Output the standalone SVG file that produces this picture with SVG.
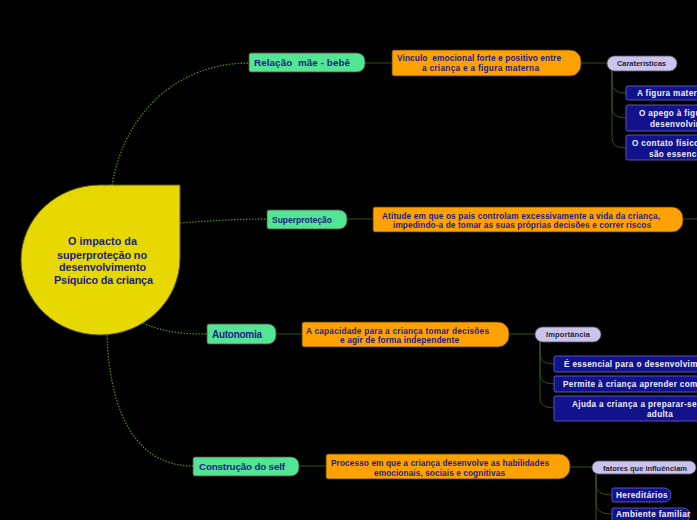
<svg xmlns="http://www.w3.org/2000/svg" width="697" height="520" viewBox="0 0 697 520">
<style>
text{font-family:"Liberation Sans",Arial,sans-serif;font-weight:bold}
.dot{fill:none;stroke:#4a8c1c;stroke-width:1.3;stroke-dasharray:1.5 1.5}
.ln{fill:none;stroke:#2f5214;stroke-width:1}
.green{fill:#52e694;stroke:#5a4a3c;stroke-width:0.8}
.orange{fill:#ffa201;stroke:#4a3a20;stroke-width:0.8}
.lav{fill:#cac4ea;stroke:#5a5070;stroke-width:0.8}
.navy{fill:#12128c;stroke:#6a6ac8;stroke-width:0.8}
.tg{fill:#1c1c88}
.to{fill:#1c1c8c;font-size:8.3px}
.tl{fill:#24243c;font-size:7.5px}
.tn{fill:#f0f0ff;font-size:8.2px;letter-spacing:0.35px}
</style>
<rect width="697" height="520" fill="#000"/>
<g id="connectors">
<path class="dot" d="M112,185 C125,110 180,63 249,63"/>
<path class="dot" d="M180,223 C220,220 240,219 267,219"/>
<path class="dot" d="M143,323 C165,333 185,334 207,334"/>
<path class="dot" d="M107,335 C110,420 140,466 193,466"/>
<path class="ln" d="M365,63 H392 M347,219 H373 M276,334 H302 M299,466 H326"/>
<path class="ln" d="M581,63 H607 M683,219 H697 M509,334 H535 M570,467 H592"/>
<path class="ln" d="M612,71 V83 Q612,93 626,93 M612,71 V108 Q612,118 626,118 M612,71 V138 Q612,148 626,148"/>
<path class="ln" d="M540,342 V354 Q540,364 554,364 M540,342 V374 Q540,384 554,384 M540,342 V398 Q540,408 554,408"/>
<path class="ln" d="M596,474 V485 Q596,495 612,495 M596,474 V504 Q596,514 612,514 M596,474 V520"/>
</g>
<g id="central">
<path d="M100,185 H180 V258 A80,77 0 0 1 100,335 A79,75 0 0 1 21,260 A79,75 0 0 1 100,185 Z" fill="#e6d800" stroke="#5a5a10" stroke-width="1"/>
<text class="tg" font-size="10.8" text-anchor="middle"><tspan x="102.5" y="245" textLength="69" lengthAdjust="spacing">O impacto da</tspan><tspan x="102" y="259" textLength="90" lengthAdjust="spacing">superproteção no</tspan><tspan x="102.5" y="271" textLength="87" lengthAdjust="spacing">desenvolvimento</tspan><tspan x="103.5" y="284" textLength="99" lengthAdjust="spacing">Psíquico da criança</tspan></text>
</g>
<g id="n-relacao">
<path class="green" d="M251,53 H357 A8,8 0 0 1 365,61 V64 A8,8 0 0 1 357,72 H251 Q249,72 249,70 V55 Q249,53 251,53 Z"/>
<text class="tg" x="254" y="66" font-size="9.8" xml:space="preserve" textLength="96" lengthAdjust="spacing">Relação  mãe - bebê</text>
</g>
<g id="n-vinculo">
<path class="orange" d="M394,50 H570 A11,11 0 0 1 581,61 V65 A11,11 0 0 1 570,76 H394 Q392,76 392,74 V52 Q392,50 394,50 Z"/>
<text class="to" text-anchor="middle" xml:space="preserve"><tspan x="479" y="61" textLength="164" lengthAdjust="spacing">Vinculo  emocional forte e positivo entre</tspan><tspan x="480.5" y="71" textLength="117" lengthAdjust="spacing">a criança e a figura materna</tspan></text>
</g>
<g id="n-caracteristicas">
<rect class="lav" x="607" y="56" width="70" height="15" rx="7.5"/>
<text class="tl" x="641.5" y="66" text-anchor="middle" textLength="49" lengthAdjust="spacing">Caraterísticas</text>
</g>
<g id="n-c1">
<rect class="navy" x="626" y="86" width="90" height="14" rx="2"/>
<text class="tn" x="637" y="96">A figura materna</text>
</g>
<g id="n-c2">
<rect class="navy" x="626" y="105" width="90" height="26" rx="2"/>
<text class="tn"><tspan x="639" y="116">O apego à figura</tspan><tspan x="650" y="127">desenvolvimento</tspan></text>
</g>
<g id="n-c3">
<rect class="navy" x="626" y="135" width="90" height="25" rx="2"/>
<text class="tn"><tspan x="632" y="146">O contato físico</tspan><tspan x="649" y="157">são essenciais</tspan></text>
</g>
<g id="n-superprotecao">
<path class="green" d="M269,210 H339 A8,8 0 0 1 347,218 V221 A8,8 0 0 1 339,229 H269 Q267,229 267,227 V212 Q267,210 269,210 Z"/>
<text class="tg" x="272" y="222.5" font-size="8.5" textLength="60" lengthAdjust="spacing">Superproteção</text>
</g>
<g id="n-atitude">
<path class="orange" d="M375,207 H672 A11,11 0 0 1 683,218 V221 A11,11 0 0 1 672,232 H375 Q373,232 373,230 V209 Q373,207 375,207 Z"/>
<text class="to" text-anchor="middle"><tspan x="521" y="218.5" textLength="278" lengthAdjust="spacing">Atitude em que os pais controlam excessivamente a vida da criança,</tspan><tspan x="522" y="228" textLength="258" lengthAdjust="spacing">impedindo-a de tomar as suas próprias decisões e correr riscos</tspan></text>
</g>
<g id="n-autonomia">
<path class="green" d="M209,324 H268 A8,8 0 0 1 276,332 V336 A8,8 0 0 1 268,344 H209 Q207,344 207,342 V326 Q207,324 209,324 Z"/>
<text class="tg" x="212" y="338" font-size="10" textLength="50" lengthAdjust="spacing">Autonomia</text>
</g>
<g id="n-capacidade">
<path class="orange" d="M304,322 H498 A11,11 0 0 1 509,333 V336 A11,11 0 0 1 498,347 H304 Q302,347 302,345 V324 Q302,322 304,322 Z"/>
<text class="to" text-anchor="middle"><tspan x="397.5" y="333.5" textLength="183" lengthAdjust="spacing">A capacidade para a criança tomar decisões</tspan><tspan x="399.5" y="343" textLength="119" lengthAdjust="spacing">e agir de forma independente</tspan></text>
</g>
<g id="n-importancia">
<rect class="lav" x="535" y="327" width="66" height="15" rx="7.5"/>
<text class="tl" x="568" y="337" text-anchor="middle" textLength="44" lengthAdjust="spacing">Importância</text>
</g>
<g id="n-i1">
<rect class="navy" x="554" y="356" width="160" height="16" rx="2"/>
<text class="tn" x="564" y="367">É essencial para o desenvolvimento</text>
</g>
<g id="n-i2">
<rect class="navy" x="554" y="376" width="160" height="16" rx="2"/>
<text class="tn" x="563" y="387">Permite à criança aprender com</text>
</g>
<g id="n-i3">
<rect class="navy" x="554" y="396" width="160" height="25" rx="2"/>
<text class="tn"><tspan x="572" y="407">Ajuda a criança a preparar-se</tspan><tspan x="660" y="417" text-anchor="middle">adulta</tspan></text>
</g>
<g id="n-construcao">
<path class="green" d="M195,457 H291 A8,8 0 0 1 299,465 V468 A8,8 0 0 1 291,476 H195 Q193,476 193,474 V459 Q193,457 195,457 Z"/>
<text class="tg" x="199" y="470" font-size="9.8" textLength="86" lengthAdjust="spacing">Construção do self</text>
</g>
<g id="n-processo">
<path class="orange" d="M328,454 H559 A11,11 0 0 1 570,465 V468 A11,11 0 0 1 559,479 H328 Q326,479 326,477 V456 Q326,454 328,454 Z"/>
<text class="to" text-anchor="middle"><tspan x="440" y="465.5" textLength="218" lengthAdjust="spacing">Processo em que a criança desenvolve as habilidades</tspan><tspan x="439.5" y="475.5" textLength="131" lengthAdjust="spacing">emocionais, sociais e cognitivas</tspan></text>
</g>
<g id="n-fatores">
<rect class="lav" x="592" y="461" width="104" height="13" rx="6.5"/>
<text class="tl" x="645" y="470.5" text-anchor="middle" textLength="84" lengthAdjust="spacing">fatores que influênciam</text>
</g>
<g id="n-f1">
<path class="navy" d="M614,488 H664 A7,7 0 0 1 671,495 A7,7 0 0 1 664,502 H614 Q612,502 612,500 V490 Q612,488 614,488 Z"/>
<text class="tn" x="616" y="498" font-size="7.5" letter-spacing="0.2">Hereditários</text>
</g>
<g id="n-f2">
<path class="navy" d="M614,508 H683 A7,7 0 0 1 690,515 A7,7 0 0 1 683,522 H614 Q612,522 612,520 V510 Q612,508 614,508 Z"/>
<text class="tn" x="616" y="517" font-size="7.5" letter-spacing="0.2">Ambiente familiar</text>
</g>
</svg>
